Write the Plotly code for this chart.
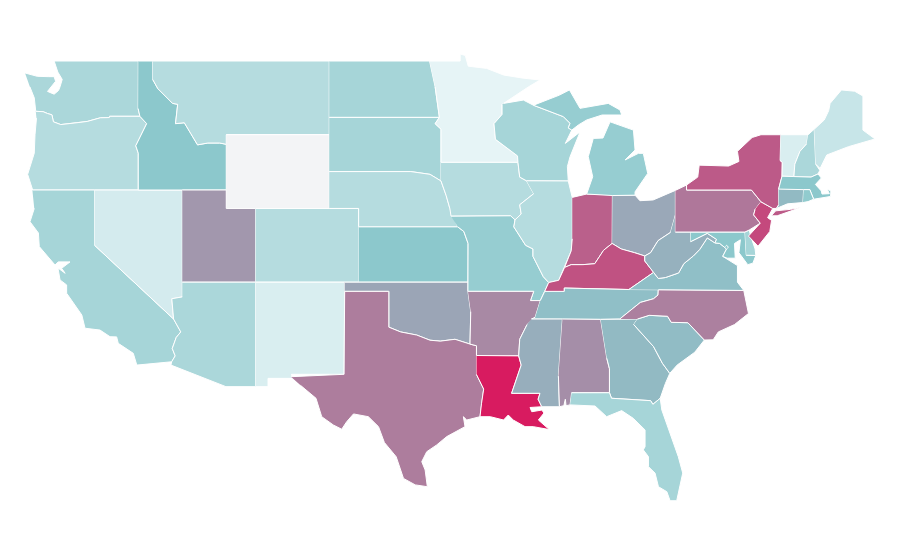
import plotly.graph_objects as go
from plotly.colors import sample_colorscale

# the topojson for locationmode="USA-states" comes from a CDN, so state outlines are kept here (lon, lat)
WA = [(-124.73,48.35),(-123.9,48.17),(-123.15,48.15),(-122.75,48.15),(-122.65,47.9),(-123.2,47.35),(-122.75,47.2),(-122.45,47.4),(-122.35,47.6),(-122.2,48.0),(-122.5,48.4),(-122.75,49.0),(-117.03,49.0),(-117.04,46.42),(-116.92,46.0),(-118.98,46.0),(-119.0,45.93),(-119.6,45.92),(-120.5,45.72),(-121.2,45.65),(-122.3,45.55),(-122.8,45.7),(-122.9,46.08),(-123.2,46.15),(-123.5,46.25),(-124.0,46.27),(-124.05,46.7),(-124.1,47.0),(-124.4,47.6)]
OR = [(-124.0,46.27),(-123.5,46.25),(-123.2,46.15),(-122.9,46.08),(-122.8,45.7),(-122.3,45.55),(-121.2,45.65),(-120.5,45.72),(-119.6,45.92),(-119.0,45.93),(-118.98,46.0),(-116.92,46.0),(-116.46,45.6),(-116.85,45.0),(-117.2,44.4),(-117.03,44.0),(-117.03,42.0),(-124.21,42.0),(-124.4,42.5),(-124.55,42.85),(-124.1,44.0),(-124.05,45.0),(-123.95,45.9)]
CA = [(-124.23,42.0),(-120.0,42.0),(-120.0,39.0),(-114.63,35.0),(-114.14,34.3),(-114.45,34.0),(-114.72,33.4),(-114.52,33.0),(-114.76,32.68),(-117.13,32.5),(-117.37,33.14),(-118.39,33.68),(-118.5,34.03),(-118.95,34.04),(-119.63,34.4),(-120.65,34.5),(-120.87,35.22),(-121.9,36.4),(-121.9,36.85),(-122.35,37.12),(-122.49,37.77),(-122.0,37.48),(-122.24,37.75),(-121.67,38.1),(-122.47,38.1),(-122.69,37.93),(-123.76,38.93),(-123.82,39.67),(-124.39,40.28),(-124.1,41.0)]
NV = [(-120.0,42.0),(-114.04,42.0),(-114.04,36.2),(-114.75,36.1),(-114.63,35.0),(-120.0,39.0)]
ID = [(-117.03,49.0),(-116.05,49.0),(-116.05,48.0),(-115.7,47.5),(-114.7,46.7),(-114.35,46.65),(-114.5,45.6),(-113.9,45.65),(-113.45,45.05),(-113.0,44.45),(-112.3,44.55),(-111.5,44.55),(-111.05,44.48),(-111.05,42.0),(-117.03,42.0),(-117.03,44.0),(-117.2,44.4),(-116.85,45.0),(-116.46,45.6),(-116.92,46.0),(-117.04,46.42)]
MT = [(-116.05,49.0),(-104.05,49.0),(-104.05,45.0),(-111.05,45.0),(-111.05,44.48),(-111.5,44.55),(-112.3,44.55),(-113.0,44.45),(-113.45,45.05),(-113.9,45.65),(-114.5,45.6),(-114.35,46.65),(-114.7,46.7),(-115.7,47.5),(-116.05,48.0)]
WY = [(-111.05,45.0),(-104.05,45.0),(-104.05,41.0),(-111.05,41.0)]
UT = [(-114.04,42.0),(-111.05,42.0),(-111.05,41.0),(-109.05,41.0),(-109.05,37.0),(-114.04,37.0)]
CO = [(-109.05,41.0),(-102.05,41.0),(-102.05,37.0),(-109.05,37.0)]
AZ = [(-114.04,37.0),(-109.05,37.0),(-109.05,31.33),(-111.07,31.33),(-114.81,32.5),(-114.76,32.68),(-114.52,33.0),(-114.72,33.4),(-114.45,34.0),(-114.14,34.3),(-114.63,35.0),(-114.75,36.1),(-114.04,36.2)]
NM = [(-109.05,37.0),(-103.0,37.0),(-103.04,32.0),(-106.62,32.0),(-106.53,31.78),(-108.21,31.78),(-108.21,31.33),(-109.05,31.33)]
ND = [(-104.05,49.0),(-97.23,49.0),(-96.85,47.6),(-96.56,45.94),(-104.05,45.94)]
SD = [(-104.05,45.94),(-96.56,45.94),(-96.85,45.6),(-96.45,45.3),(-96.45,43.5),(-96.45,42.49),(-97.2,42.85),(-98.5,43.0),(-104.05,43.0)]
NE = [(-104.05,43.0),(-98.5,43.0),(-97.2,42.85),(-96.45,42.49),(-96.1,41.7),(-95.85,41.0),(-95.31,40.0),(-102.05,40.0),(-102.05,41.0),(-104.05,41.0)]
KS = [(-102.05,40.0),(-95.31,40.0),(-94.9,39.75),(-94.61,39.1),(-94.62,37.0),(-102.05,37.0)]
OK = [(-103.0,37.0),(-94.62,37.0),(-94.62,36.5),(-94.43,35.4),(-94.48,33.64),(-95.5,33.9),(-96.5,33.8),(-97.2,33.85),(-98.1,34.13),(-99.2,34.3),(-100.0,34.56),(-100.0,36.5),(-103.0,36.5)]
TX = [(-106.65,31.87),(-103.04,32.0),(-103.0,36.5),(-100.0,36.5),(-100.0,34.56),(-99.2,34.3),(-98.1,34.13),(-97.2,33.85),(-96.5,33.8),(-95.5,33.9),(-94.48,33.64),(-94.04,33.55),(-94.04,33.02),(-94.04,31.99),(-93.55,31.2),(-93.7,30.4),(-93.8,29.7),(-94.7,29.52),(-94.93,29.7),(-94.82,29.16),(-96.06,28.62),(-96.74,28.17),(-97.42,27.8),(-97.76,27.26),(-97.53,26.81),(-97.38,25.9),(-98.2,26.0),(-99.0,26.35),(-99.5,27.53),(-100.3,28.3),(-100.7,29.16),(-101.39,29.7),(-102.4,29.85),(-102.86,29.43),(-103.2,29.02),(-103.77,29.25),(-104.56,29.7),(-104.95,30.7),(-106.0,31.4)]
MN = [(-97.23,49.0),(-95.15,49.0),(-95.15,49.38),(-94.8,49.3),(-94.6,48.72),(-93.35,48.6),(-92.2,48.24),(-90.87,48.07),(-89.72,47.97),(-90.5,47.6),(-92.2,46.7),(-92.3,46.65),(-92.3,46.1),(-92.85,45.6),(-92.75,44.75),(-91.25,43.85),(-91.22,43.5),(-96.45,43.5),(-96.45,45.3),(-96.85,45.6),(-96.56,45.94),(-96.85,47.6)]
IA = [(-96.45,43.5),(-91.22,43.5),(-91.1,42.7),(-90.64,42.5),(-90.15,41.8),(-91.1,41.2),(-91.0,40.7),(-91.42,40.38),(-91.72,40.6),(-95.77,40.58),(-95.85,41.0),(-96.1,41.7),(-96.45,42.49)]
MO = [(-95.77,40.58),(-91.72,40.6),(-91.42,40.38),(-91.5,40.0),(-90.7,39.0),(-90.2,38.8),(-90.2,38.4),(-89.5,37.3),(-89.13,36.98),(-89.4,36.5),(-89.7,36.0),(-90.37,36.0),(-90.15,36.5),(-94.62,36.5),(-94.62,37.0),(-94.61,39.1),(-94.9,39.75),(-95.31,40.0)]
AR = [(-94.62,36.5),(-90.15,36.5),(-90.37,36.0),(-89.7,36.0),(-90.05,35.1),(-90.6,34.7),(-91.1,33.9),(-91.17,33.0),(-94.04,33.02),(-94.04,33.55),(-94.48,33.64),(-94.43,35.4)]
LA = [(-94.04,33.02),(-91.17,33.0),(-91.0,32.5),(-91.65,30.97),(-89.72,30.97),(-89.85,30.65),(-89.6,30.24),(-90.4,30.2),(-90.28,29.97),(-89.6,30.06),(-89.45,29.9),(-89.83,29.52),(-89.09,29.0),(-90.18,29.16),(-90.74,29.16),(-91.54,29.52),(-91.88,29.79),(-92.2,29.52),(-93.1,29.7),(-93.8,29.7),(-93.7,30.4),(-93.55,31.2),(-94.04,31.99)]
WI = [(-92.2,46.7),(-90.85,46.88),(-90.17,46.6),(-88.13,45.98),(-87.68,45.62),(-87.8,45.37),(-87.56,45.25),(-88.0,44.53),(-87.0,45.15),(-87.68,43.8),(-87.86,43.27),(-87.8,42.49),(-90.64,42.5),(-91.1,42.7),(-91.22,43.5),(-91.25,43.85),(-92.75,44.75),(-92.85,45.6),(-92.3,46.1),(-92.3,46.65)]
IL = [(-90.64,42.5),(-87.8,42.49),(-87.53,41.6),(-87.53,39.35),(-87.6,38.7),(-88.05,37.8),(-88.45,37.1),(-89.13,36.98),(-89.5,37.3),(-90.2,38.4),(-90.2,38.8),(-90.7,39.0),(-91.5,40.0),(-91.42,40.38),(-91.0,40.7),(-91.1,41.2),(-90.15,41.8)]
IN = [(-87.53,41.6),(-86.55,41.78),(-84.8,41.76),(-84.82,39.1),(-85.4,38.73),(-86.0,38.0),(-86.8,37.95),(-87.6,37.95),(-88.05,37.8),(-87.6,38.7),(-87.53,39.35)]
OH = [(-84.8,41.7),(-83.26,41.72),(-82.93,41.42),(-82.03,41.46),(-80.52,41.98),(-80.52,40.64),(-80.85,39.7),(-81.7,39.25),(-82.2,38.6),(-82.6,38.42),(-83.3,38.6),(-84.2,38.8),(-84.82,39.1)]
KY = [(-89.4,36.5),(-89.13,36.98),(-88.45,37.1),(-88.05,37.8),(-87.6,37.95),(-86.8,37.95),(-86.0,38.0),(-85.4,38.73),(-84.82,39.1),(-84.2,38.8),(-83.3,38.6),(-82.6,38.42),(-82.6,38.15),(-82.0,37.53),(-83.68,36.6),(-88.07,36.68),(-88.07,36.5)]
TN = [(-89.7,36.0),(-89.4,36.5),(-88.07,36.5),(-88.07,36.68),(-83.68,36.6),(-81.68,36.59),(-81.7,36.3),(-82.0,36.1),(-82.9,35.9),(-84.3,35.0),(-85.6,34.98),(-88.2,35.0),(-90.3,35.0),(-90.05,35.1)]
MS = [(-90.3,35.0),(-88.2,35.0),(-88.47,31.9),(-88.4,30.24),(-89.6,30.24),(-89.85,30.65),(-89.72,30.97),(-91.65,30.97),(-91.0,32.5),(-91.17,33.0),(-91.1,33.9),(-90.6,34.7)]
AL = [(-88.2,35.0),(-85.6,34.98),(-85.18,32.87),(-85.0,32.3),(-85.0,31.0),(-87.57,31.0),(-87.68,30.34),(-87.95,30.3),(-88.0,30.65),(-88.1,30.3),(-88.4,30.24),(-88.47,31.9)]
GA = [(-85.6,34.98),(-83.1,35.0),(-83.35,34.7),(-82.0,33.5),(-81.4,32.6),(-80.9,32.05),(-81.2,31.5),(-81.55,30.7),(-82.05,30.37),(-82.2,30.57),(-84.86,30.7),(-85.0,31.0),(-85.0,32.3),(-85.18,32.87)]
FL = [(-87.57,31.0),(-85.0,31.0),(-84.86,30.7),(-82.2,30.57),(-82.05,30.37),(-81.55,30.7),(-81.44,30.06),(-80.88,28.8),(-80.32,27.53),(-80.02,26.64),(-80.43,25.14),(-80.88,25.14),(-81.1,25.63),(-81.67,25.9),(-81.9,26.64),(-82.35,26.99),(-82.35,27.53),(-82.7,27.9),(-82.58,28.07),(-82.58,28.98),(-83.38,29.61),(-84.17,30.03),(-85.19,29.7),(-85.98,30.28),(-87.34,30.33),(-87.68,30.34)]
SC = [(-83.1,35.0),(-82.3,35.2),(-81.05,35.15),(-80.8,34.82),(-79.67,34.8),(-78.55,33.86),(-79.2,33.2),(-80.4,32.5),(-80.9,32.05),(-81.4,32.6),(-82.0,33.5),(-83.35,34.7)]
NC = [(-84.3,35.0),(-82.9,35.9),(-82.0,36.1),(-81.7,36.3),(-81.68,36.59),(-75.87,36.55),(-75.55,35.3),(-76.5,34.7),(-77.6,34.3),(-77.95,33.87),(-78.55,33.86),(-79.67,34.8),(-80.8,34.82),(-81.05,35.15),(-82.3,35.2),(-83.1,35.0)]
VA = [(-83.68,36.6),(-82.0,37.53),(-81.68,37.2),(-81.2,37.25),(-80.3,37.5),(-79.95,38.0),(-79.3,38.42),(-78.87,38.77),(-78.35,39.4),(-77.83,39.13),(-77.5,39.1),(-77.04,38.8),(-77.3,38.4),(-76.3,37.9),(-76.3,37.0),(-75.87,36.55),(-81.68,36.59)]
WV = [(-80.52,40.64),(-80.52,39.72),(-79.48,39.72),(-79.48,39.2),(-78.35,39.65),(-77.72,39.32),(-77.83,39.13),(-78.35,39.4),(-78.87,38.77),(-79.3,38.42),(-79.95,38.0),(-80.3,37.5),(-81.2,37.25),(-81.68,37.2),(-82.0,37.53),(-82.6,38.15),(-82.6,38.42),(-82.2,38.6),(-81.7,39.25),(-80.85,39.7)]
MD = [(-79.48,39.72),(-75.79,39.72),(-75.7,38.46),(-75.05,38.45),(-75.25,38.03),(-75.6,37.95),(-76.2,38.6),(-76.1,39.3),(-76.5,39.1),(-76.45,38.3),(-77.0,38.3),(-77.3,38.4),(-77.04,38.8),(-77.5,39.1),(-77.83,39.13),(-77.72,39.32),(-78.35,39.65),(-79.48,39.2)]
DE = [(-75.79,39.72),(-75.5,39.83),(-75.4,39.5),(-75.1,38.8),(-75.05,38.45),(-75.7,38.46)]
DC = [(-77.12,38.93),(-77.04,39.0),(-76.91,38.9),(-77.04,38.8)]
PA = [(-80.52,41.98),(-80.08,42.15),(-79.76,42.27),(-79.76,42.0),(-75.35,42.0),(-74.7,41.36),(-75.1,40.95),(-75.2,40.65),(-74.75,40.2),(-75.5,39.83),(-75.79,39.72),(-80.52,39.72)]
NJ = [(-74.7,41.36),(-73.9,41.0),(-74.25,40.5),(-73.98,40.35),(-74.1,39.75),(-74.9,38.95),(-75.55,39.5),(-75.05,39.95),(-74.75,40.2),(-75.2,40.65),(-75.1,40.95)]
NY = [(-79.76,42.27),(-79.0,42.7),(-78.9,43.35),(-76.9,43.3),(-76.2,43.55),(-76.3,44.1),(-75.3,44.85),(-74.7,45.0),(-73.35,45.0),(-73.4,43.6),(-73.25,43.5),(-73.27,42.75),(-73.5,42.05),(-73.49,41.2),(-73.65,41.0),(-73.9,41.0),(-74.7,41.36),(-75.35,42.0),(-79.76,42.0),(-79.76,42.27),(None,None),(-74.0,40.6),(-73.6,40.6),(-72.0,41.05),(-72.7,40.95),(-73.7,40.87),(-74.0,40.6)]
VT = [(-73.35,45.0),(-71.5,45.0),(-71.6,44.5),(-72.05,44.1),(-72.4,43.4),(-72.46,42.73),(-73.27,42.75),(-73.25,43.5),(-73.4,43.6)]
NH = [(-71.5,45.0),(-71.08,45.3),(-70.98,43.4),(-70.7,43.07),(-70.82,42.87),(-71.3,42.7),(-72.46,42.73),(-72.4,43.4),(-72.05,44.1),(-71.6,44.5)]
ME = [(-71.08,45.3),(-70.4,45.8),(-70.1,46.3),(-70.0,46.7),(-69.23,47.43),(-68.33,47.36),(-67.77,47.1),(-67.77,45.9),(-67.77,45.25),(-66.95,44.77),(-68.76,44.35),(-70.23,43.9),(-70.68,43.17),(-70.98,43.4)]
MA = [(-73.5,42.05),(-73.27,42.75),(-72.46,42.73),(-71.3,42.7),(-70.82,42.87),(-70.6,42.65),(-71.0,42.3),(-70.6,41.95),(-70.55,41.78),(-70.05,41.8),(-70.2,42.05),(-69.95,41.95),(-69.97,41.65),(-70.65,41.55),(-71.12,41.5),(-71.38,42.02),(-71.8,42.02)]
CT = [(-73.5,42.05),(-71.8,42.02),(-71.85,41.32),(-72.9,41.25),(-73.65,41.0),(-73.49,41.2)]
RI = [(-71.8,42.02),(-71.38,42.02),(-71.12,41.5),(-71.5,41.37),(-71.85,41.32)]
MI = [(-84.8,41.7),(-83.26,41.72),(-83.26,41.9),(-82.4,42.9),(-82.7,43.99),(-83.03,43.99),(-83.94,43.63),(-83.26,44.17),(-83.37,45.25),(-84.96,45.7),(-85.44,44.82),(-86.1,44.8),(-86.44,43.81),(-86.14,42.72),(-86.55,41.78),(-84.8,41.7),(None,None),(-90.17,46.6),(-88.13,45.98),(-87.68,45.62),(-87.8,45.37),(-87.56,45.25),(-87.11,45.53),(-86.55,45.8),(-85.5,46.07),(-84.17,46.07),(-84.28,46.34),(-85.08,46.7),(-87.0,46.43),(-87.72,47.43),(-88.4,47.15),(-90.17,46.6)]

states = ["WA","OR","CA","NV","ID","MT","WY","UT","CO","AZ","NM","ND","SD","NE","KS","OK","TX","MN","IA","MO","AR","LA","WI","IL","IN","OH","KY","TN","MS","AL","GA","FL","SC","NC","VA","WV","MD","DE","DC","PA","NJ","NY","VT","NH","ME","MA","CT","RI","MI"]
outlines = [WA,OR,CA,NV,ID,MT,WY,UT,CO,AZ,NM,ND,SD,NE,KS,OK,TX,MN,IA,MO,AR,LA,WI,IL,IN,OH,KY,TN,MS,AL,GA,FL,SC,NC,VA,WV,MD,DE,DC,PA,NJ,NY,VT,NH,ME,MA,CT,RI,MI]
values = [28,24,30,12,40,24,0,57,24,28,10,30,30,24,40,52,66,5,24,36,62,100,30,24,76,51,81,43,49,60,45,30,44,65,43,48,40,30,40,68,84,78,10,28,17,40,45,38,36]

colorscale = [[0, "#f3f4f6"], [0.05, "#e6f4f6"], [0.4, "#8cc8cc"], [1, "#d81b60"]]

fig = go.Figure()
for state, outline, value in zip(states, outlines, values):
    fig.add_trace(go.Scatter(
        x=[p[0] for p in outline],
        y=[p[1] for p in outline],
        name=state,
        mode="lines",
        fill="toself",
        fillcolor=sample_colorscale(colorscale, value / 100)[0],
        line=dict(color="#ffffff", width=1),
        text=state + ": " + str(value),
        hoverinfo="text",
        showlegend=False,
    ))

fig.update_xaxes(range=[-125.886, -64.706], visible=False, fixedrange=True)
fig.update_yaxes(range=[21.49, 51.876], visible=False, fixedrange=True)
fig.update_layout(width=900, height=560, margin=dict(l=0, r=0, t=0, b=0), paper_bgcolor="#ffffff", plot_bgcolor="#ffffff")
fig.write_html("out.html")
